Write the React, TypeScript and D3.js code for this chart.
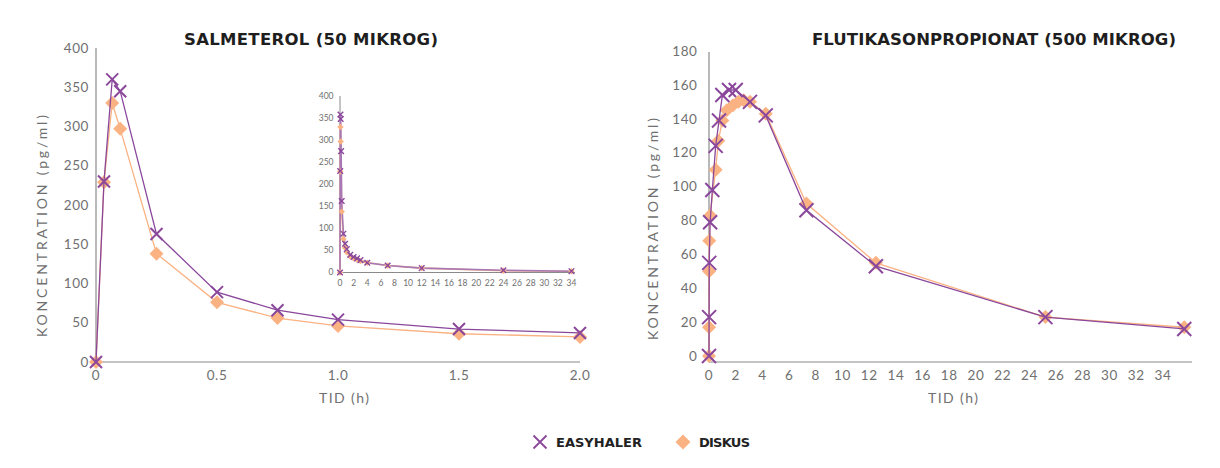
import React from "react";
import * as d3 from "d3";

// ---------- data ----------
// Salmeterol main chart (0–2 h)
const salTime = [0, 0.033, 0.067, 0.1, 0.25, 0.5, 0.75, 1.0, 1.5, 2.0];
const salEasy = [0, 230, 360, 345, 163, 89, 66, 54, 42, 37];
const salDiskus = [0, 229, 330, 297, 138, 76, 56, 46, 36, 32];

// Salmeterol inset (0–34 h)
const insetTimeE = [0, 0.033, 0.067, 0.1, 0.167, 0.25, 0.5, 0.75, 1, 1.5, 2, 2.5, 3, 4, 7, 12, 24, 34];
const insetEasy = [0, 230, 358, 348, 275, 162, 88, 65, 53, 40, 35, 32, 28, 22, 16, 10, 5, 3];
const insetTimeD = [0, 0.033, 0.067, 0.1, 0.25, 0.5, 0.75, 1, 1.5, 2, 2.5, 3, 4, 7, 12, 24, 34];
const insetDiskus = [0, 229, 330, 297, 138, 76, 56, 46, 36, 32, 29, 26, 22, 16, 10, 4, 3];

// Flutikasonpropionat (0–34 h)
const fluTimeE = [0, 0.008, 0.017, 0.083, 0.25, 0.5, 0.75, 1, 1.5, 2, 3.07, 4.25, 7.3, 12.5, 25.2, 35.6];
const fluEasy = [0, 23, 55, 79, 98, 124, 139, 154, 157, 157, 150, 142, 86, 53, 23, 16];
const fluTimeD = [0, 0.004, 0.008, 0.017, 0.083, 0.5, 0.7, 1, 1.33, 1.8, 2.2, 2.6, 3.07, 4.25, 7.3, 12.5, 25.2, 35.6];
const fluDiskus = [0, 17, 50, 68, 83, 110, 127, 139, 145, 148, 150, 151, 150, 143, 90, 55, 23, 17];

// tick labels
const salYTicks = [0, 50, 100, 150, 200, 250, 300, 350, 400];
const salXTicks = [0, 0.5, 1.0, 1.5, 2.0];
const insetXTicks = d3.range(0, 35, 2);
const fluYTicks = [0, 20, 40, 60, 80, 100, 120, 140, 160, 180];
const fluXTicks = d3.range(0, 35, 2);

const seriesNames = ["EASYHALER", "DISKUS"];
const titles = ["SALMETEROL (50 MIKROG)", "FLUTIKASONPROPIONAT (500 MIKROG)"];
const yTitle = "KONCENTRATION  (pg/ml)";
const xTitle = "TID (h)";

// ---------- style ----------
const PURPLE = "#8a479b";
const PURPLE_LIGHT = "#a878b4";
const ORANGE = "#fab283";
const AXIS = "#8a8a8a";
const TICK = "#707070";
const TICK_FONT = "Lato, 'Open Sans', sans-serif";
const BOLD_FONT = "'DejaVu Sans', Lato, sans-serif";

type P = { x: number; y: number };

function XMark({ x, y, r, sw, color = PURPLE }: { x: number; y: number; r: number; sw: number; color?: string }) {
  return (
    <path
      d={`M${x - r},${y - r}L${x + r},${y + r}M${x - r},${y + r}L${x + r},${y - r}`}
      stroke={color}
      strokeWidth={sw}
      fill="none"
    />
  );
}
function Diamond({ x, y, r, color = ORANGE }: { x: number; y: number; r: number; color?: string }) {
  return <path d={`M${x},${y - r}L${x + r},${y}L${x},${y + r}L${x - r},${y}Z`} fill={color} />;
}

function pts(t: number[], v: number[], xs: any, ys: any): P[] {
  return t.map((tt, i) => ({ x: xs(tt), y: ys(v[i]) }));
}

const lineGen = d3
  .line<P>()
  .x((d) => d.x)
  .y((d) => d.y);

export default function App() {
  // left main
  const xL = d3.scaleLinear().domain([0, 2]).range([96, 580]);
  const yL = d3.scaleLinear().domain([0, 400]).range([362, 48]);
  // inset
  const xI = d3.scaleLinear().domain([0, 34]).range([340, 571.5]);
  const yI = d3.scaleLinear().domain([0, 400]).range([272.5, 96]);
  // right
  const xR = d3.scaleLinear().domain([0, 34]).range([709, 709 + 34 * 13.35]);
  const yR = d3.scaleLinear().domain([-3.5, 180]).range([362, 51]);

  const lE = pts(salTime, salEasy, xL, yL);
  const lD = pts(salTime, salDiskus, xL, yL);
  const iE = pts(insetTimeE, insetEasy, xI, yI);
  const iD = pts(insetTimeD, insetDiskus, xI, yI);
  const rE = pts(fluTimeE, fluEasy, xR, yR);
  const rD = pts(fluTimeD, fluDiskus, xR, yR);

  const fmtL = (v: number) => (v === 0 ? "0" : v.toFixed(1));

  return (
    <svg
      width={1220}
      height={468}
      viewBox="0 0 1220 468"
      style={{ position: "absolute", left: 0, top: 0, background: "#fff" }}
    >
      <rect x={0} y={0} width={1220} height={468} fill="#fff" />

      {/* titles */}
      <text x={184} y={45} fontFamily={BOLD_FONT} fontWeight={700} fontSize={16.5} fill="#1e1e1e"
        textLength={254} lengthAdjust="spacing">{titles[0]}</text>
      <text x={812} y={45} fontFamily={BOLD_FONT} fontWeight={700} fontSize={16.5} fill="#1e1e1e"
        textLength={364} lengthAdjust="spacing">{titles[1]}</text>

      {/* ================= LEFT CHART ================= */}
      <line x1={96} x2={96} y1={48} y2={362} stroke={AXIS} strokeWidth={1.2} />
      <line x1={96} x2={580} y1={362} y2={362} stroke={AXIS} strokeWidth={1.2} />
      {salYTicks.map((t) => (
        <text key={"ly" + t} x={89} y={yL(t)} dy="0.35em" textAnchor="end" fontFamily={TICK_FONT}
          fontWeight={400} fontSize={13.5} fill={TICK} letterSpacing={0.6}>{t}</text>
      ))}
      {salXTicks.map((t) => (
        <text key={"lx" + t} x={xL(t)} y={375} dy="0.35em" textAnchor="middle" fontFamily={TICK_FONT}
          fontWeight={400} fontSize={13.5} fill={TICK} letterSpacing={0.6}>{fmtL(t)}</text>
      ))}
      <text x={344} y={403} textAnchor="middle" fontFamily={TICK_FONT} fontWeight={400} fontSize={14}
        fill={TICK} textLength={50} lengthAdjust="spacing">{xTitle}</text>
      <text transform="translate(47,226) rotate(-90)" textAnchor="middle" fontFamily={TICK_FONT}
        fontWeight={400} fontSize={14} fill={TICK} textLength={222} lengthAdjust="spacing">{yTitle}</text>

      {/* inset */}
      <line x1={340} x2={340} y1={96} y2={272.5} stroke={AXIS} strokeWidth={1} />
      <line x1={340} x2={575} y1={272.5} y2={272.5} stroke={AXIS} strokeWidth={1} />
      {salYTicks.map((t) => (
        <text key={"iy" + t} x={333.5} y={yI(t)} dy="0.35em" textAnchor="end" fontFamily={TICK_FONT}
          fontWeight={400} fontSize={8.5} fill={TICK}>{t}</text>
      ))}
      {insetXTicks.map((t) => (
        <text key={"ix" + t} x={xI(t)} y={283} dy="0.35em" textAnchor="middle" fontFamily={TICK_FONT}
          fontWeight={400} fontSize={8.5} fill={TICK}>{t}</text>
      ))}
      <path d={lineGen(iD) || ""} fill="none" stroke={ORANGE} strokeWidth={1.6} />
      <path d={lineGen(iE) || ""} fill="none" stroke={PURPLE_LIGHT} strokeWidth={1.6} />
      {iD.map((p, i) => <Diamond key={"id" + i} x={p.x} y={p.y} r={3.2} />)}
      {iE.map((p, i) => <XMark key={"ie" + i} x={p.x} y={p.y} r={2.8} sw={1.4} />)}

      {/* main series */}
      <path d={lineGen(lD) || ""} fill="none" stroke={ORANGE} strokeWidth={1.3} />
      {lD.map((p, i) => <Diamond key={"ld" + i} x={p.x} y={p.y} r={7} />)}
      <path d={lineGen(lE) || ""} fill="none" stroke={PURPLE} strokeWidth={1.3} />
      {lE.map((p, i) => <XMark key={"le" + i} x={p.x} y={p.y} r={6} sw={2} />)}

      {/* ================= RIGHT CHART ================= */}
      <line x1={709} x2={709} y1={52} y2={362} stroke={AXIS} strokeWidth={1.2} />
      <line x1={709} x2={1192} y1={362} y2={362} stroke={AXIS} strokeWidth={1.2} />
      {fluYTicks.map((t) => (
        <text key={"ry" + t} x={697.5} y={yR(t)} dy="0.35em" textAnchor="end" fontFamily={TICK_FONT}
          fontWeight={400} fontSize={13.5} fill={TICK} letterSpacing={0.6}>{t}</text>
      ))}
      {fluXTicks.map((t) => (
        <text key={"rx" + t} x={xR(t)} y={375} dy="0.35em" textAnchor="middle" fontFamily={TICK_FONT}
          fontWeight={400} fontSize={13.5} fill={TICK} letterSpacing={0.6}>{t}</text>
      ))}
      <text x={953} y={403} textAnchor="middle" fontFamily={TICK_FONT} fontWeight={400} fontSize={14}
        fill={TICK} textLength={50} lengthAdjust="spacing">{xTitle}</text>
      <text transform="translate(658,229) rotate(-90)" textAnchor="middle" fontFamily={TICK_FONT}
        fontWeight={400} fontSize={14} fill={TICK} textLength={222} lengthAdjust="spacing">{yTitle}</text>

      <path d={lineGen(rD) || ""} fill="none" stroke={ORANGE} strokeWidth={1.3} />
      {rD.map((p, i) => <Diamond key={"rd" + i} x={p.x} y={p.y} r={7} />)}
      <path d={lineGen(rE) || ""} fill="none" stroke={PURPLE} strokeWidth={1.3} />
      {rE.map((p, i) => <XMark key={"re" + i} x={p.x} y={p.y} r={7} sw={2} />)}

      {/* ================= LEGEND ================= */}
      <XMark x={540} y={442} r={6.5} sw={1.8} />
      <text x={556} y={447} fontFamily={BOLD_FONT} fontWeight={700} fontSize={13} fill="#222"
        textLength={86} lengthAdjust="spacing">{seriesNames[0]}</text>
      <Diamond x={683} y={442} r={7.5} />
      <text x={699} y={447} fontFamily={BOLD_FONT} fontWeight={700} fontSize={13} fill="#222"
        textLength={51} lengthAdjust="spacing">{seriesNames[1]}</text>
    </svg>
  );
}
